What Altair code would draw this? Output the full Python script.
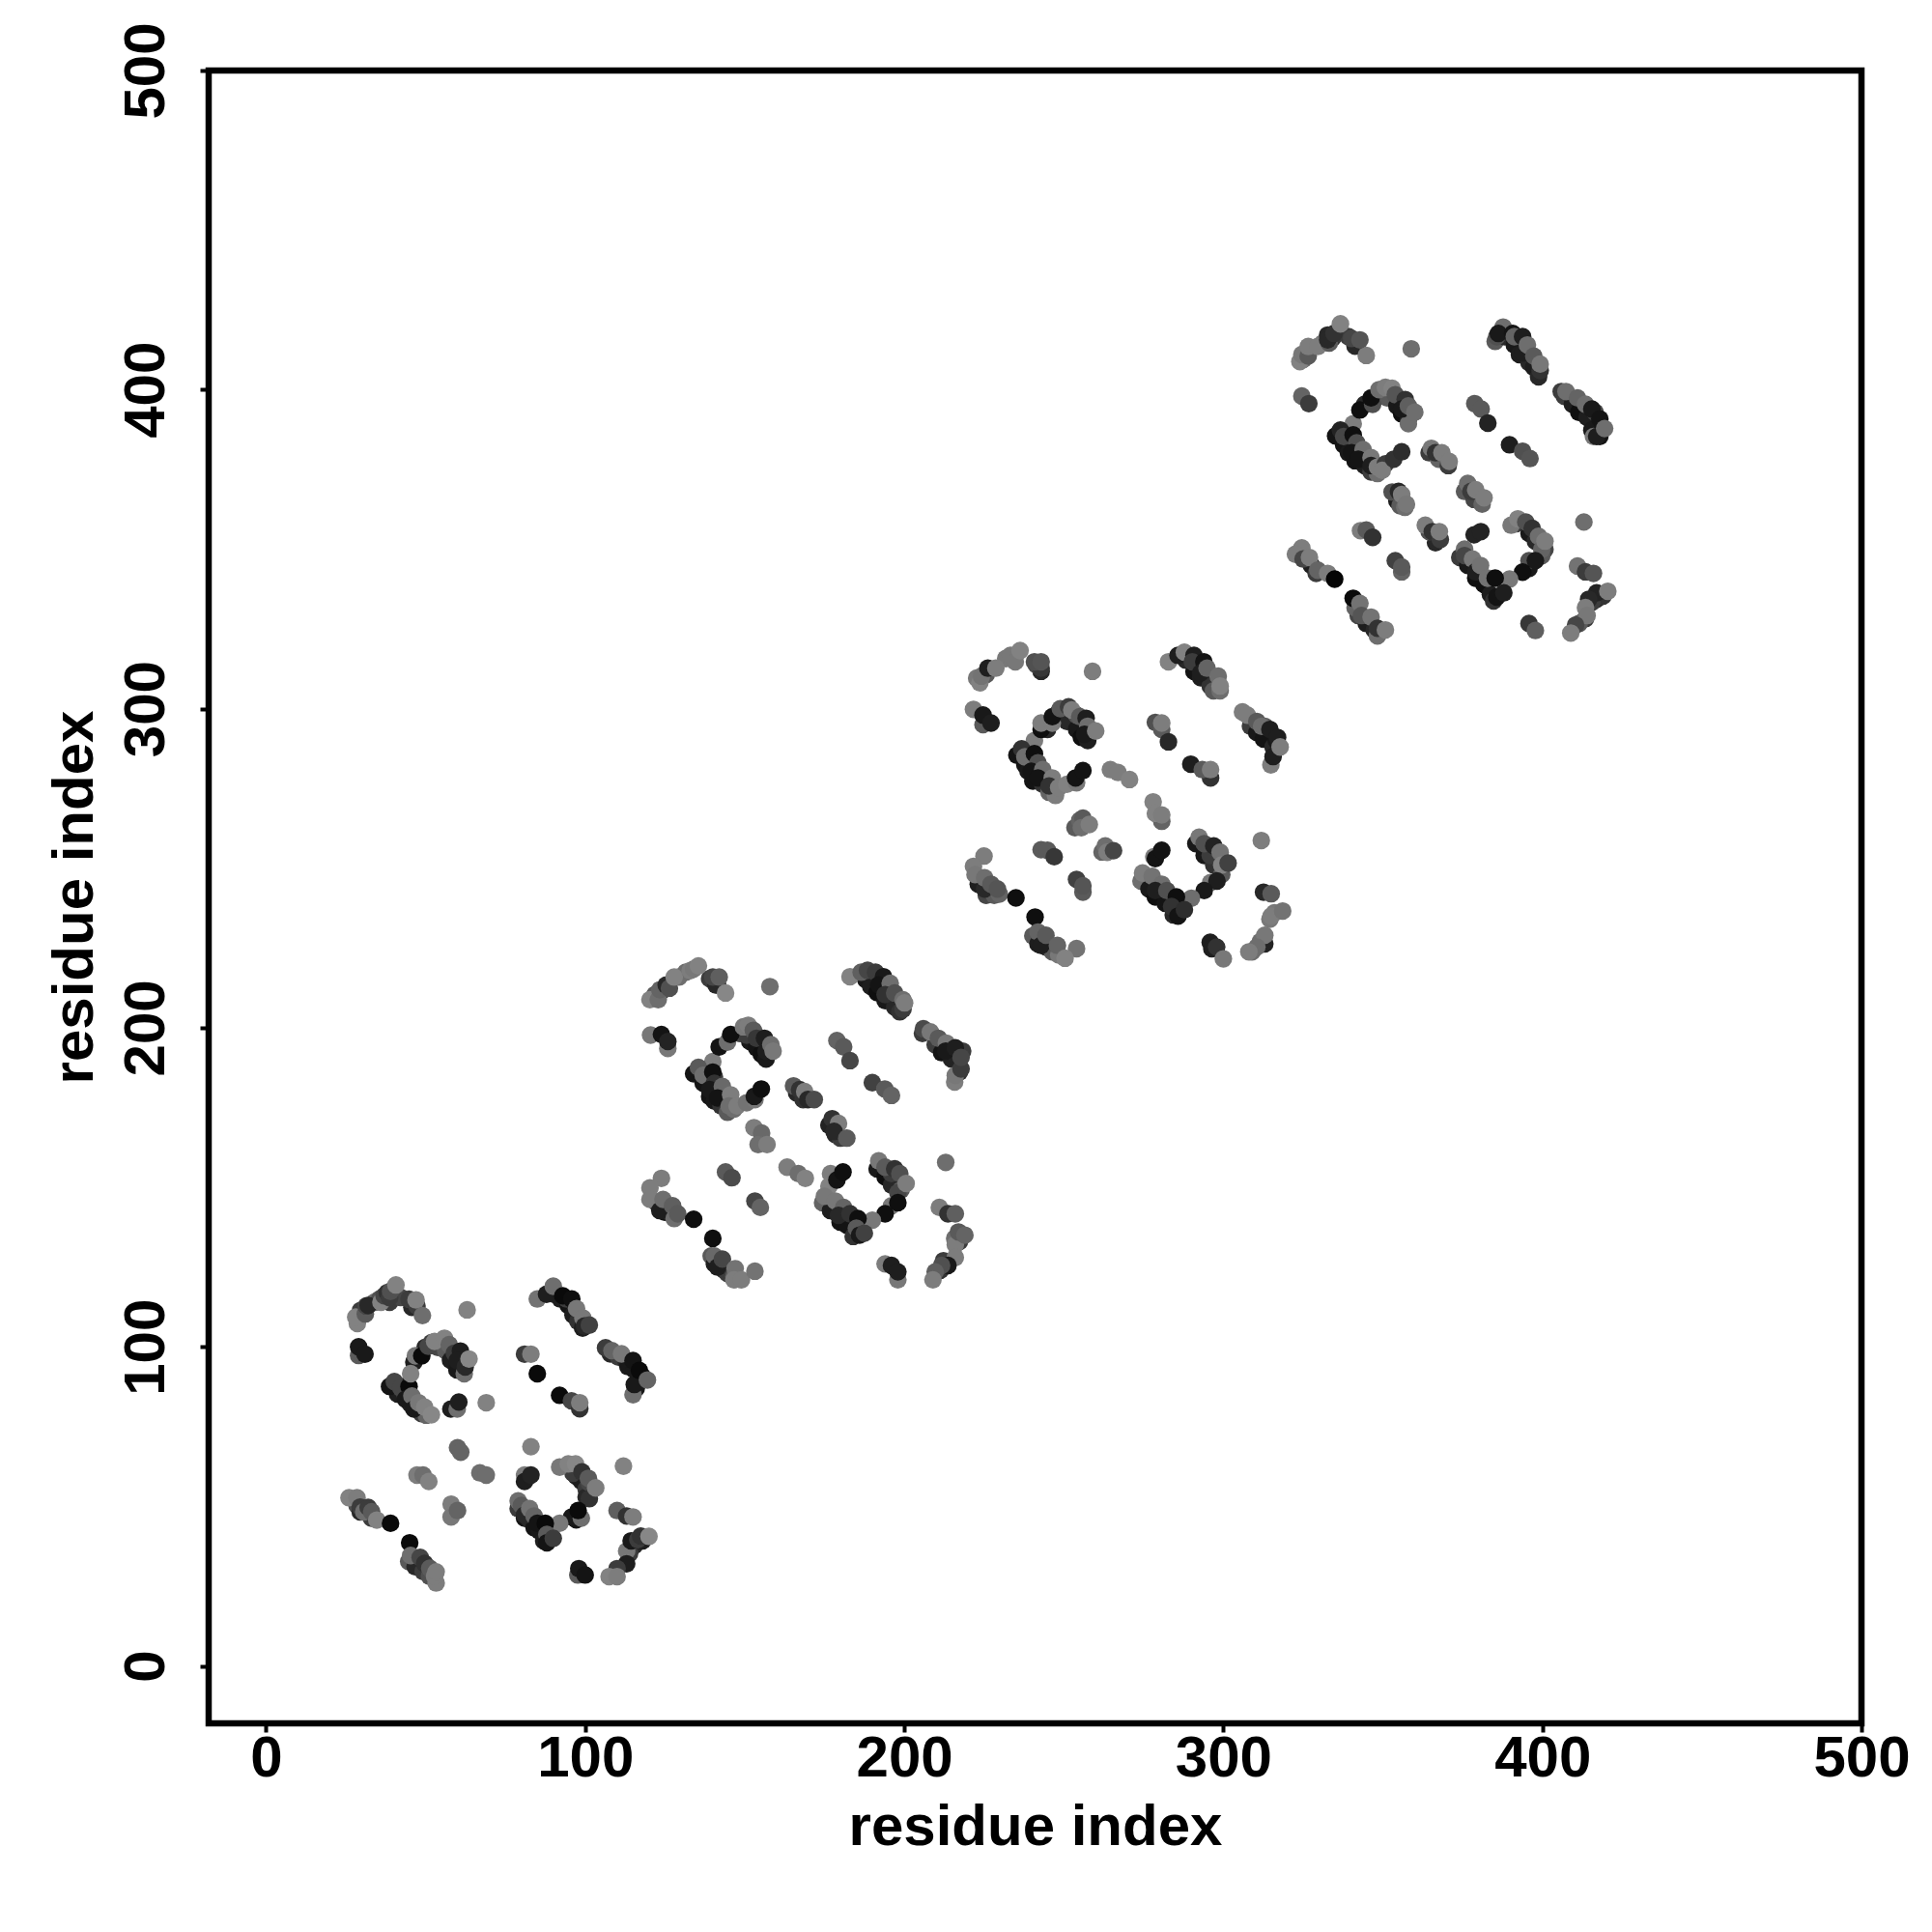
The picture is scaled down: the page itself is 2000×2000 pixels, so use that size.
import altair as alt
import pandas as pd

TICKS = [0, 100, 200, 300, 400, 500]
AXIS_TITLE = "residue index"

# (residue i, residue j, grey shade 0-255) in drawing order
under_1 = [
 (29.6,111.4,60),(34,114,110),(35.6,115,80),(39.7,117.5,50),(38.7,114,60),(42.2,115.5,70),(45.7,112.4,40),
 (53.8,99.8,70),(56.3,98.8,90),(57.8,95.8,30),(59.8,92.8,25),(49.8,99.8,40),(51.8,101.3,60),
 (41.2,85.2,30),(43.2,85.7,50),(45.2,82.1,30),(47.7,80.6,90),(48.7,79.1,60),(50.2,78.6,100),(43.7,87.7,25),
 (90.2,116.5,40),(92.2,115,30),(94.7,113,20),(96.2,110,30),(97.7,108,50),(99.2,105.9,30),(94.2,115,60),
 (107.9,97.8,40),(110.4,96.8,60),(112.9,95.3,40),(113.4,93.8,25),(115.4,92.8,25),(118,90.7,20),(116,87,25),
 (79,49.3,60),(81,46.3,20),(82.6,45.8,40),(84,43.3,20),(85.6,42.3,25),(87,39.2,30),
 (97.2,59.4,30),(98.8,57.9,30),(100.3,55.4,60),(100.3,52.9,40),(101.3,57.4,70),(96.2,60.4,60),(97.2,45.8,20),
 (115.4,37.7,40),(113.9,35.2,60),(118,39.2,30),
 (28.5,50.3,80),(31,48.3,50),(29.5,48.3,40),(33,46.3,60),(44.7,32.7,90),(46.7,31.1,40),(49.2,29.6,60),(51.2,28.1,80),
]
cluster_1 = [
 (28.6,107.3,130),(28.1,109.3,130),(31.1,110.3,90),(31.4,112.8,70),(32,113,40),(36,114,130),(37,116,70),(38,117,50),
 (38.7,115.4,60),(39,117.4,80),(40.7,119.4,130),(44.8,114.9,60),(47.3,112.8,60),(47,114.7,130),(49,109.8,110),(63,111.6,130),
 (29,97.3,90),(29,100,25),(31,97.7,25),
 (46.3,95.2,30),(46.8,97.2,120),(48.8,97.2,10),(50.8,100.2,70),(52.8,101.7,130),(55.9,102.7,130),(57.4,100.7,100),(59,98,60),
 (60.9,98.7,30),(59.9,95.7,30),(62.1,91.6,110),(62.4,93.7,40),(63.6,96.2,135),
 (38.7,87.6,20),(40.2,89.1,70),(42.2,87.1,70),(44.8,87.6,10),(45.3,91.6,130),(43.7,83.6,25),(45.7,84.6,110),(46.3,80.5,25),
 (47.8,82.5,120),(49.7,81.1,130),(51.8,78.7,135),
 (57.9,80.5,30),(59.9,80.5,110),(60.4,82.7,30),(69,82.5,130),
 (85,115,115),(87.9,116.5,30),(90,119,110),(93,116,10),(95.8,115,15),(97.3,112,120),(99.3,109,120),(99.8,106.5,40),(101.3,106.8,65),
 (106.4,99.7,60),(108.4,98.8,100),(111.4,97.8,120),(115,95.7,20),(115,85,110),(115.4,88.2,25),(117,92.6,10),(119.5,89.6,100),
 (81,97.7,60),(83,97.7,125),(85,91.6,10),(92,84.8,10),(95.7,83.1,70),(98.3,80.6,50),(98.3,82.5,125),
 (60,68.4,100),(61,67,100),(83,68.7,130),(112,62.6,130),
 (47.3,59.8,125),(49.2,59.8,110),(51,57.8,130),(67,60.5,110),(69,59.8,110),
 (81,59.8,125),(81,57.8,30),(83,59.8,35),(58,50.7,125),(58,46.7,120),(60,48.7,100),
 (92,62.3,120),(94.7,63.3,130),(97,63.3,135),(99,60.8,50),(101,58.8,90),(101.3,52.4,50),(103.3,55.8,125),
 (95.8,46.7,25),(98.8,46.3,110),(97.8,48.7,10),(92,44.7,120),
 (79,51.7,110),(80,50.3,90),(81,47.3,40),(82.6,49.3,115),(84,47,100),(85,44.7,20),(87.5,44.7,10),(88,41.2,90),(88,38.6,20),(90,40,60),
 (110,48.7,95),(113,47,50),(115,46.7,125),(113,36,120),(114.4,39.2,25),(116.5,39.6,60),(117.4,40.7,50),(120,40.6,135),
 (113,32,30),(110,30.5,60),(107.5,28,130),(110,28,125),(97.7,28.5,90),(98,30.5,25),(100,28.5,20),
 (26,52.7,130),(28.5,52.7,125),(29.5,49.8,60),(30.6,48.3,110),(32,49.7,60),(33.1,48.3,90),(34.7,45.7,130),(39,44.7,10),(45,38.6,10),
 (45.3,34.6,110),(48.3,34,70),(49.7,32.1,50),(51.3,30.6,90),(53.3,26,125),(52.8,28.1,125),(53.3,29.5,125),
]

under_2 = [
 (121.9,210.4,90),(123.9,211.4,60),(129.4,215.9,110),(131.5,217.4,110),(139,215.4,60),(141,213.4,40),
 (148.6,198.2,70),(151.6,195.7,25),(153.7,193.7,20),(155.2,191.7,15),(156.7,190.2,25),(150.6,197.7,60),(153.2,198.2,80),
 (137,182.6,20),(139,178.5,20),(140.5,177,25),(142.6,175.5,50),(144.6,173.5,90),(146.6,174.5,110),(140.5,184.6,60),
 (188,215,25),(189.5,213,30),(191.5,211,15),(194,208.5,25),(197,206.5,40),(198.6,205,50),(193,213.4,60),
 (205.7,198.2,60),(209.7,194.7,60),(211.7,192.2,20),(214.8,190.2,35),(217.3,186.1,50),(218.3,192.7,60),
 (166.3,179.5,40),(168.3,177.5,50),(176.4,169.5,35),(178.4,166.5,40),(180,165.4,60),
 (174.4,145.2,100),(176.9,142.7,30),(179.9,139.1,20),(182,138.1,20),(184,134.6,50),(191.5,155.8,25),(194,153.3,15),(196,150.7,40),(199,149.2,90),(196,154.3,60),
 (217.3,133,60),(215.8,134,110),(212.3,127,60),(211.3,124,50),
 (122.4,145.2,60),(124.9,142.2,20),(126.9,141.7,40),(139.5,128.5,90),(140.5,126,30),(143.6,124,40),(144.6,123,60),(146.6,122,90),(125.4,143.7,60),
]
cluster_2 = [
 (120.3,208.8,130),(122.9,208.8,110),(123.4,211.9,100),(125.4,213.4,40),(126.4,212.4,80),(127.9,215.9,130),(132.9,217.9,125),(134,218.4,120),
 (135.5,219.4,130),(141.5,213.4,40),(140,215.9,70),(142,215.9,95),(144,210.9,135),(157.9,212.9,110),
 (120.5,197.7,120),(125.9,193.5,120),(123.9,197.9,20),(125.9,195.7,35),
 (140,189.4,125),(142,194,20),(144.6,195.5,110),(145.6,197.9,15),(149.6,200.3,120),(151.1,200.8,125),(152.7,199.2,90),(153.7,196.7,55),
 (156.2,196.7,30),(156.7,192.7,30),(158.2,194.7,110),(158.9,192.7,120),
 (134,185.6,20),(135.5,187.6,90),(137,185.1,110),(140,186.1,15),(140.5,182.6,50),(139,180.6,25),(143,181.6,105),(141.5,178,20),
 (145.6,179,125),(145.1,175.5,110),(147.6,175.5,125),(150.6,176.5,115),(153.2,177.5,120),(153,178.5,25),(155.2,180.8,15),
 (183,216,130),(186.5,217.4,95),(188.5,218,70),(191,217.4,60),(193.5,216,25),(192,213.4,20),(195.6,213.9,110),(194,210.4,50),(197,210.9,80),
 (199.6,205.8,60),(199.6,208.8,110),(200.1,207.8,125),
 (206,199.7,75),(208.2,198.7,120),(210.7,196.7,90),(213.2,195.2,120),(213,192.7,25),(216,193.7,30),(215.8,183,125),(216,185.1,120),(217.8,187.1,60),(217.8,190.7,70),
 (178.9,196,100),(181,194,90),(183,189.7,70),(190,182.8,65),(193.9,180.8,90),(196,178.8,100),
 (165.3,181.8,90),(167.2,180.6,50),(168.8,180,125),(169.8,177.5,40),(171.8,177.5,75),
 (177.4,171.5,50),(179.4,170,125),(178,167.5,40),(182,165.4,90),
 (152.9,168.7,125),(155.3,167,105),(154.2,163.4,110),(157,163.4,125),
 (163.3,156.3,125),(166.8,154.3,110),(169,152.8,130),(144,154.8,90),(146,153,75),(153.2,145.7,70),(154.9,143.7,100),(213,157.8,110),
 (176.9,154.3,125),(176.4,150.3,130),(178.9,152.3,20),(180.8,154.8,15),
 (192,158.3,120),(194,156.3,90),(197,155.8,50),(198.6,154.3,80),(198,148.3,70),(200.6,151.2,125),(196,144.2,120),(198,145.2,15),(194,141.7,15),(190,139.7,120),
 (175,147.2,120),(178.4,145.7,120),(181,143.7,100),(179.4,141.2,40),(183,141.7,50),(185.5,140.2,15),(185,137.2,90),(186,135,25),(187.5,135.6,65),
 (211,143.7,125),(213.7,141.7,50),(216,141.7,95),(216,132,125),(217,136,90),(219,135,100),(216,128,125),(213.7,125.5,25),(211.7,125.5,80),(209.7,123.5,95),(209,121,125),
 (194,126,125),(198,121,120),(196,125.5,30),(198,123.5,30),
 (123.9,152.8,125),(120.3,149.8,125),(120.3,146.2,125),(123.4,142.7,30),(124.4,146.2,110),(127.4,144.2,95),(127.9,140.2,110),(129,141.7,90),(134,140,15),(140,134,15),
 (140.5,128.5,105),(141.5,125,30),(143,127.5,70),(147,124.5,115),(146.6,121,125),(149,121,125),(153.2,123.7,115),
]

under_3 = [
 (222.7,309.6,120),(225.7,310.7,90),(231.8,315.7,120),(234.8,316.7,115),(242.9,311.7,40),(241.4,313.7,75),
 (248.4,299,60),(251,296,40),(254,293.5,25),(255.5,291,15),(257.5,290,30),(254,298,80),(244.9,293.5,40),
 (237.8,282.4,20),(238.8,280.4,25),(240.3,277.3,20),(243.4,276.3,50),(245.4,273.8,100),(247.4,272.8,125),(242.4,279.8,60),
 (288.3,315.2,40),(290.8,311.7,20),(292.9,309.7,30),(295.9,307.1,50),(296.9,305.6,90),(293.4,312.2,70),
 (308.5,294.5,60),(310.5,292.5,25),(312.6,290.5,20),(315.6,288,40),(316.6,290,25),(313,294.5,90),
 (253.5,262.7,90),(262,255.1,100),
 (274.2,246,110),(276.7,243.5,25),(278.7,241,15),(281.8,239,20),(284.3,235.4,40),(291.4,257.7,25),(294,254,25),(297,251,50),(299.5,248,90),(295.9,254,60),
 (316,236,120),(314.6,234,120),(311.6,227,110),(309,223.8,110),
 (223.2,245,30),(225.7,241.5,70),(228.2,241.5,90),(240.3,228.8,90),(241.9,226.3,30),(244.4,225.3,40),(246.4,223.8,90),(248.4,222.8,120),
]
cluster_3 = [
 (223.7,308.1,130),(224.2,310.2,115),(226.2,312.7,30),(228.7,312.7,125),(233.3,316.7,120),(234.8,314.7,120),(236.3,318.2,130),
 (242.9,312.7,55),(240.8,314.7,80),(242.9,314.7,85),(259,311.7,125),
 (221.7,299.8,125),(224.7,295,90),(224.7,298,25),(227.2,295.5,30),
 (240.8,290,125),(242.9,293.5,15),(242.9,295.5,125),(246.4,295.5,125),(246.4,297.5,20),(248.9,300,90),(251.5,300.6,60),(252.5,299.6,125),
 (255,297.5,90),(257,297,30),(257.5,294.5,110),(256.5,292,25),(260,293,125),
 (235.3,285.4,20),(236.8,287.4,50),(237.8,284.9,110),(240.8,285.9,15),(241.9,283,80),(239.8,280.4,20),(243.4,280.9,110),(241.9,278.3,20),
 (246.4,278.3,125),(245.4,275.8,50),(248.4,275.3,125),(251,276.3,130),(254,276.8,120),(253.7,278.3,20),(256,280.6,20),
 (282.8,314.7,130),(285.8,316.7,30),(287.8,317.7,130),(290.8,316.7,30),(290.3,314.7,60),(293.9,314.7,20),(292.9,311.2,30),(294.9,312.7,100),
 (299,305.6,110),(298.4,310.2,110),(299,307.1,130),
 (306,299,125),(307.5,298,125),(310.5,296,90),(312,294.5,110),(314.6,293.5,30),(317,291,30),(314.9,282.4,125),(315.6,285,30),(317.8,288,125),
 (278.7,295.7,80),(280.7,293.5,90),(280.7,295.5,125),(282.8,289.6,40),(289.8,282.6,30),(296,278.3,50),(293.4,280.9,90),(296,280.9,125),
 (264.6,280.9,125),(267,280,125),(270.6,277.8,130),
 (280.7,264.7,100),(278,270.8,130),(278.7,267.2,130),(280.7,266.7,125),
 (255,265,100),(256,265.7,90),(255.5,262.7,110),(258,263.7,125),
 (263,257,110),(263.6,255,125),(265.6,255.5,70),
 (242.9,255.8,90),(244.9,255.6,90),(247,253.6,55),(254,246.5,65),(256,242.5,90),(256,244.5,85),(311.9,258.7,125),
 (278.2,253.6,125),(278.7,253,20),(280.7,255.6,20),
 (292.4,259.7,120),(294,257.7,80),(297,257,35),(299,255,115),(299.5,251,130),(301.5,251.6,65),(296,245.5,120),(298,246,30),(294,243,25),(290,240.6,110),
 (274.7,248.5,125),(277.7,247.5,115),(280.7,245,110),(278.7,243,30),(282.3,243,80),(285.3,241,15),(283.8,238,50),(285.8,235,20),(287.8,237,45),
 (312.6,242.5,40),(315,242,90),(315,235,125),(318.6,236.6,115),(313,226.3,35),(313,229,120),(310.5,225.3,110),(308,223.8,125),
 (295.9,226.8,30),(296.4,224.8,30),(297.9,225.3,50),(300,221.6,120),
 (225,253.8,125),(221.7,250.6,125),(222.2,248,120),(225.2,243.5,40),(225.2,247,110),(227.2,245,90),(229.8,241.9,100),(229.2,243.5,85),(235,240.7,15),(241,234.7,15),
 (241.9,230,100),(242.9,225.8,30),(244.4,229,90),(248,225.8,100),(254,224.8,115),(250.4,221.8,130),
]

under_4 = [
 (331.2,414.6,120),(332.7,417.1,40),(334.2,416.1,50),(335.7,417.6,60),(339.2,416.6,60),(341.3,413.6,40),(325.1,409.5,110),
 (349.3,398.4,60),(351.3,397.4,90),(354.4,394.9,25),(355.9,392.4,15),(358,390.8,30),(344.3,395.4,40),
 (337.7,382.7,20),(339.2,380.2,25),(341.3,377.7,20),(344.3,376.2,30),(346.3,374.2,60),(348.3,373.7,110),(342.8,380.7,60),
 (385.2,415.1,90),(388.2,416.6,40),(391.2,414,25),(392.8,411,30),(395.8,408.5,40),(397.3,407,30),(398.8,404,40),
 (406.9,397.9,60),(409.4,395.4,30),(411.4,392.9,15),(414,391.3,30),(416.5,392.9,70),(415.5,387.3,25),(418,385.3,20),
 (364.5,380.2,60),(367.5,378.2,100),(375.6,368.1,90),(378.6,365.6,70),(381.1,364.1,100),(354.4,365.1,30),(355.4,363.6,90),(366.5,352,40),(364.5,355.5,80),
 (374.1,347.4,60),(376.6,344.9,25),(379.1,340.9,15),(381.7,338.9,15),(383.7,335.8,30),(384.7,333.8,50),(391.8,358,60),(395.8,355,25),(397.8,352.5,40),(400.8,349.9,70),(399.8,347.9,90),(395.8,343.9,25),
 (417,334.3,40),(419,335.3,50),(415.5,333.3,60),(413.5,328.2,60),(411.5,326.7,90),
 (325,347.9,60),(327.6,344.9,30),(329.1,342.4,60),(342.3,329.2,70),(344.8,326.7,30),(347.3,324.7,40),(341.3,331.7,100),
]
cluster_4 = [
 (324,408.8,130),(324.6,411,120),(326.6,410.5,90),(326.6,413.5,125),(329.6,413.5,125),(333.2,414.6,90),(332.7,415.6,40),(334.7,417.6,50),(336.7,420.6,130),
 (340.2,416,70),(344.8,410.7,125),(342.8,415.6,85),(358.9,412.8,110),
 (324.6,398,100),(326.8,395.6,60),
 (340.7,389.3,125),(342.8,393.6,15),(346.8,395.4,80),(346.3,397.4,15),(348.8,400,110),(350.8,400.7,125),(352.9,400.4,130),(353.9,398.4,85),
 (357,396.9,50),(358,389.3,110),(355.9,393.9,25),(358,394.9,95),(360,392.9,110),
 (335.2,385.5,20),(336.7,387.3,35),(337.7,385.3,70),(340.7,385.8,15),(341.8,383.3,80),(340.2,380.2,20),(343.8,381.2,110),(342.3,378.2,20),
 (346.3,378.7,120),(346.3,376.2,30),(348.3,375.7,125),(350.8,376.7,60),(349.8,374.7,125),(353.4,378.2,50),(355.9,380.5,45),
 (385.7,416.6,80),(387.7,419.6,110),(386.2,417.6,25),(390.7,417.6,20),(391.2,416.6,100),(393.8,416.6,30),(393.8,411.5,30),(395.3,414,110),
 (399.3,406,50),(397.3,410.5,90),(399.3,408,120),
 (405.9,399.4,60),(407.4,399.4,110),(411,397.4,100),(413.5,395.4,110),(415.5,393.9,25),(416,385.3,120),(417,385.3,30),(418,390.8,20),(419.5,387.8,110),
 (378.8,395.6,90),(380.8,393.9,90),(382.9,389.5,35),(389.7,382.7,30),(393.8,380.7,80),(396.1,378.4,85),
 (365.2,381.6,120),(366.5,380.2,50),(368.5,380.2,125),(370.5,376.2,60),(370.8,377.5,125),
 (376.6,370.6,110),(377.6,368.1,60),(379.1,368.6,125),(381.7,366.1,125),
 (352.9,367.9,80),(354.9,368.1,40),(355.9,367.1,125),(356.9,363.1,110),(357.4,364.1,120),
 (363.3,357.5,125),(365.5,355.5,50),(368,353,60),(367.7,355.5,125),
 (343,355.8,125),(344.8,356,90),(346.8,353.7,50),(353.9,346.4,65),(355.9,342.9,100),(355.9,344.4,90),(413,358.5,110),
 (390.2,357.5,120),(392.3,359.5,130),(394.8,358.5,80),(396.8,356.5,50),(398.8,354,110),(399.8,349.9,100),(400.8,352.5,125),
 (395.8,346.4,80),(397.8,346.4,25),(393.8,342.8,15),(389.7,340.6,120),
 (378.6,354.5,35),(380.7,355.5,35),(375.6,350,110),(375.6,348,70),(378.1,346.9,120),(379.1,342.9,30),(380.6,344.9,115),(382.8,340.9,115),(385.2,340.9,15),(385.7,335,20),(387.9,336.3,30),
 (411,344.7,115),(413.5,342.9,60),(416,342.4,85),(417,336.3,35),(420.5,336.8,125),(414.5,334.3,40),(413.5,331.7,125),(414,329.2,120),(410.4,326.2,70),(408.9,323.7,125),
 (395.8,326.7,55),(397.8,324.5,95),
 (324.6,350.4,125),(322.6,348.4,125),(325,346.9,70),(327,347.4,125),(329.6,343.4,100),(332.7,342.4,125),(334.9,340.6,5),(340.7,334.6,10),(342.8,333,115),
 (343.3,329.2,85),(346.3,328.7,115),(348.3,322.8,110),(348.3,325.2,50),(350.8,324.7,125),
]

rows = [
    {"i": i, "j": j, "shade": f"rgb({g},{g},{g})"}
    for cluster in (under_1 + cluster_1, under_2 + cluster_2, under_3 + cluster_3, under_4 + cluster_4)
    for i, j, g in cluster
]
df = pd.DataFrame(rows)

FONT = "Liberation Sans"

def axis(**kw):
    return alt.Axis(
        values=TICKS, grid=False, domain=False, tickColor="black", tickWidth=4, tickSize=9,
        labelFont=FONT, labelFontSize=60, labelFontWeight="bold", labelColor="black",
        titleFont=FONT, titleFontSize=60, titleFontWeight="bold", titleColor="black",
        labelOverlap=False, labelFlush=False, labelBound=False, **kw)

chart = (
    alt.Chart(df)
    .mark_circle(size=335, opacity=1)
    .encode(
        x=alt.X("i:Q", scale=alt.Scale(domain=[-18, 500], nice=False, zero=False),
                axis=axis(title=AXIS_TITLE, labelPadding=-2, titlePadding=12)),
        y=alt.Y("j:Q", scale=alt.Scale(domain=[-18, 500], nice=False, zero=False),
                axis=axis(title=AXIS_TITLE, labelPadding=25, titlePadding=13, labelAngle=270,
                          labelAlign="center", labelBaseline="bottom")),
        color=alt.Color("shade:N", scale=None, legend=None),
    )
    .properties(width=1711, height=1711, autosize=alt.AutoSizeParams(type="none"),
                padding={"left": 208, "top": 65, "right": 65, "bottom": 208},
                background="white")
    .configure_view(stroke="black", strokeWidth=6.5)
)

chart.save("out.html", embed_options={"renderer": "svg", "actions": False})
